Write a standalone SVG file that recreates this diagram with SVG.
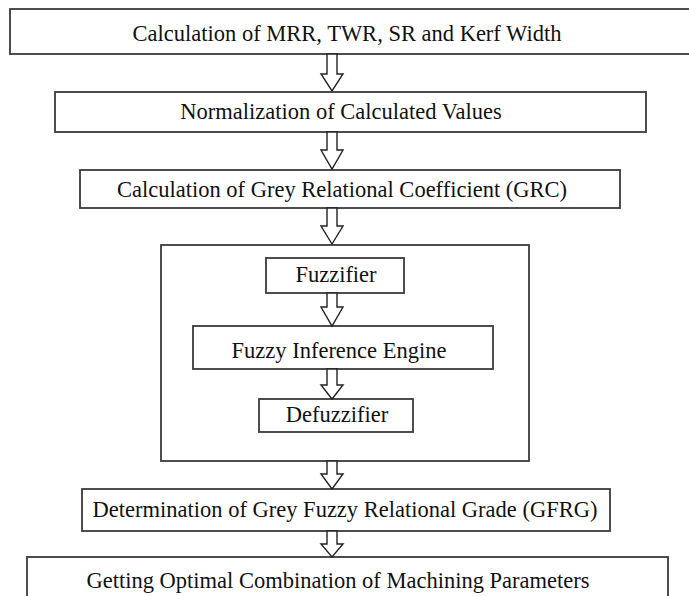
<svg xmlns="http://www.w3.org/2000/svg" width="689" height="596" viewBox="0 0 689 596">
<style>
.box{fill:#fff;stroke:#3a3a3a;stroke-width:1.8}
.lbl{font-family:"Liberation Serif","Times New Roman",serif;font-size:22.5px;fill:#111;text-anchor:middle}
.arr{fill:#fff;stroke:#222;stroke-width:1.4;stroke-linejoin:miter}
</style>
<rect width="689" height="596" fill="#fff"/>
<g id="n1"><rect class="box" x="10" y="9" width="690" height="45"/><text class="lbl" x="347" y="41">Calculation of MRR, TWR, SR and Kerf Width</text></g>
<g id="n2"><rect class="box" x="55" y="92" width="591" height="40"/><text class="lbl" x="341" y="119">Normalization of Calculated Values</text></g>
<g id="n3"><rect class="box" x="80" y="170" width="540" height="38"/><text class="lbl" x="342" y="197">Calculation of Grey Relational Coefficient (GRC)</text></g>
<g id="fuzzy"><rect class="box" x="161" y="245" width="368" height="216"/></g>
<g id="n4"><rect class="box" x="266" y="258" width="138" height="35"/><text class="lbl" x="336" y="282">Fuzzifier</text></g>
<g id="n5"><rect class="box" x="193" y="326" width="300" height="43"/><text class="lbl" x="339" y="358">Fuzzy Inference Engine</text></g>
<g id="n6"><rect class="box" x="259" y="399" width="154" height="33"/><text class="lbl" x="337" y="422">Defuzzifier</text></g>
<g id="n7"><rect class="box" x="82" y="489" width="528" height="42"/><text class="lbl" x="345" y="517">Determination of Grey Fuzzy Relational Grade (GFRG)</text></g>
<g id="n8"><rect class="box" x="27" y="557" width="641" height="60"/><text class="lbl" x="338" y="588">Getting Optimal Combination of Machining Parameters</text></g>
<g id="connectors">
<polygon class="arr" points="327,54 337,54 337,74 343,74 332,91 321,74 327,74"/>
<polygon class="arr" points="327,132 337,132 337,150 343,150 332,169 321,150 327,150"/>
<polygon class="arr" points="327,208 337,208 337,226 343,226 332,244 321,226 327,226"/>
<polygon class="arr" points="327,293 337,293 337,307 343,307 332,326 321,307 327,307"/>
<polygon class="arr" points="327,369 337,369 337,385 343,385 332,399 321,385 327,385"/>
<polygon class="arr" points="327,461 337,461 337,474 343,474 332,489 321,474 327,474"/>
<polygon class="arr" points="327,531 337,531 337,544 343,544 332,557 321,544 327,544"/>
</g>
</svg>
